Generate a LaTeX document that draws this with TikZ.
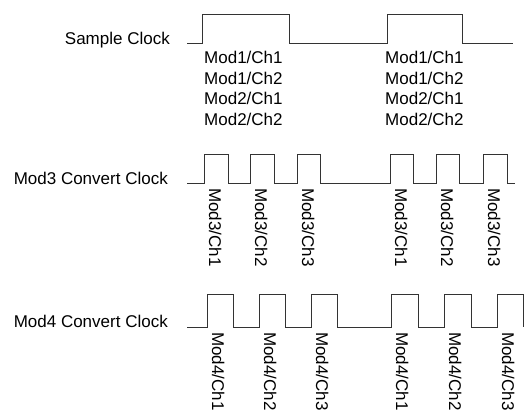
\documentclass[tikz,border=0pt]{standalone}
\usepackage{fontspec}
\setmainfont{Liberation Sans}
\begin{document}
\begin{tikzpicture}[x=1pt,y=-1pt,
  wave/.style={line width=1pt, black!80, line join=miter},
  lbl/.style={inner sep=0pt, font=\fontsize{17}{20}\selectfont, anchor=base east},
  item/.style={inner sep=0pt, font=\fontsize{17}{20}\selectfont, anchor=base west},
  vitem/.style={item, rotate=-90}]
\useasboundingbox (0,0) rectangle (524,410);

% row labels
\node[lbl] (sclk) at (170,44) {Sample Clock};
\node[lbl] (mthree) at (168,184) {Mod3 Convert Clock};
\node[lbl] (mfour) at (168,327) {Mod4 Convert Clock};

% Sample clock
\draw[wave] (187,43) -- (202,43) -- (202,14.5) -- (289,14.5) -- (289,43)
  -- (387,43) -- (387,14.5) -- (462,14.5) -- (462,43) -- (513,43);

\node[item] (sa1) at (204,63.3) {Mod1/Ch1};
\node[item] (sa2) at (204,84) {Mod1/Ch2};
\node[item] (sa3) at (204,104.7) {Mod2/Ch1};
\node[item] (sa4) at (204,125.4) {Mod2/Ch2};
\node[item] (sb1) at (385,63.3) {Mod1/Ch1};
\node[item] (sb2) at (385,84) {Mod1/Ch2};
\node[item] (sb3) at (385,104.7) {Mod2/Ch1};
\node[item] (sb4) at (385,125.4) {Mod2/Ch2};

% Mod3 convert clock
\draw[wave] (187,183) -- (204,183) -- (204,154) -- (228,154) -- (228,183)
  -- (250,183) -- (250,154) -- (274,154) -- (274,183)
  -- (297,183) -- (297,154) -- (320,154) -- (320,183)
  -- (390,183) -- (390,154) -- (413,154) -- (413,183)
  -- (436,183) -- (436,154) -- (459,154) -- (459,183)
  -- (483,183) -- (483,154) -- (507,154) -- (507,183) -- (515,183);

\node[vitem] (ta1) at (209,188) {Mod3/Ch1};
\node[vitem] (ta2) at (255,188) {Mod3/Ch2};
\node[vitem] (ta3) at (302,188) {Mod3/Ch3};
\node[vitem] (tb1) at (395,188) {Mod3/Ch1};
\node[vitem] (tb2) at (441,188) {Mod3/Ch2};
\node[vitem] (tb3) at (488,188) {Mod3/Ch3};

% Mod4 convert clock
\draw[wave] (187,327) -- (207,327) -- (207,294) -- (233,294) -- (233,327)
  -- (259,327) -- (259,294) -- (285,294) -- (285,327)
  -- (311,327) -- (311,294) -- (337,294) -- (337,327)
  -- (391,327) -- (391,294) -- (418,294) -- (418,327)
  -- (444,327) -- (444,294) -- (471,294) -- (471,327)
  -- (497,327) -- (497,294) -- (523,294) -- (523,327);

\node[vitem] (fa1) at (212,332) {Mod4/Ch1};
\node[vitem] (fa2) at (264,332) {Mod4/Ch2};
\node[vitem] (fa3) at (316,332) {Mod4/Ch3};
\node[vitem] (fb1) at (396,332) {Mod4/Ch1};
\node[vitem] (fb2) at (449,332) {Mod4/Ch2};
\node[vitem] (fb3) at (502,332) {Mod4/Ch3};
\end{tikzpicture}
\end{document}
